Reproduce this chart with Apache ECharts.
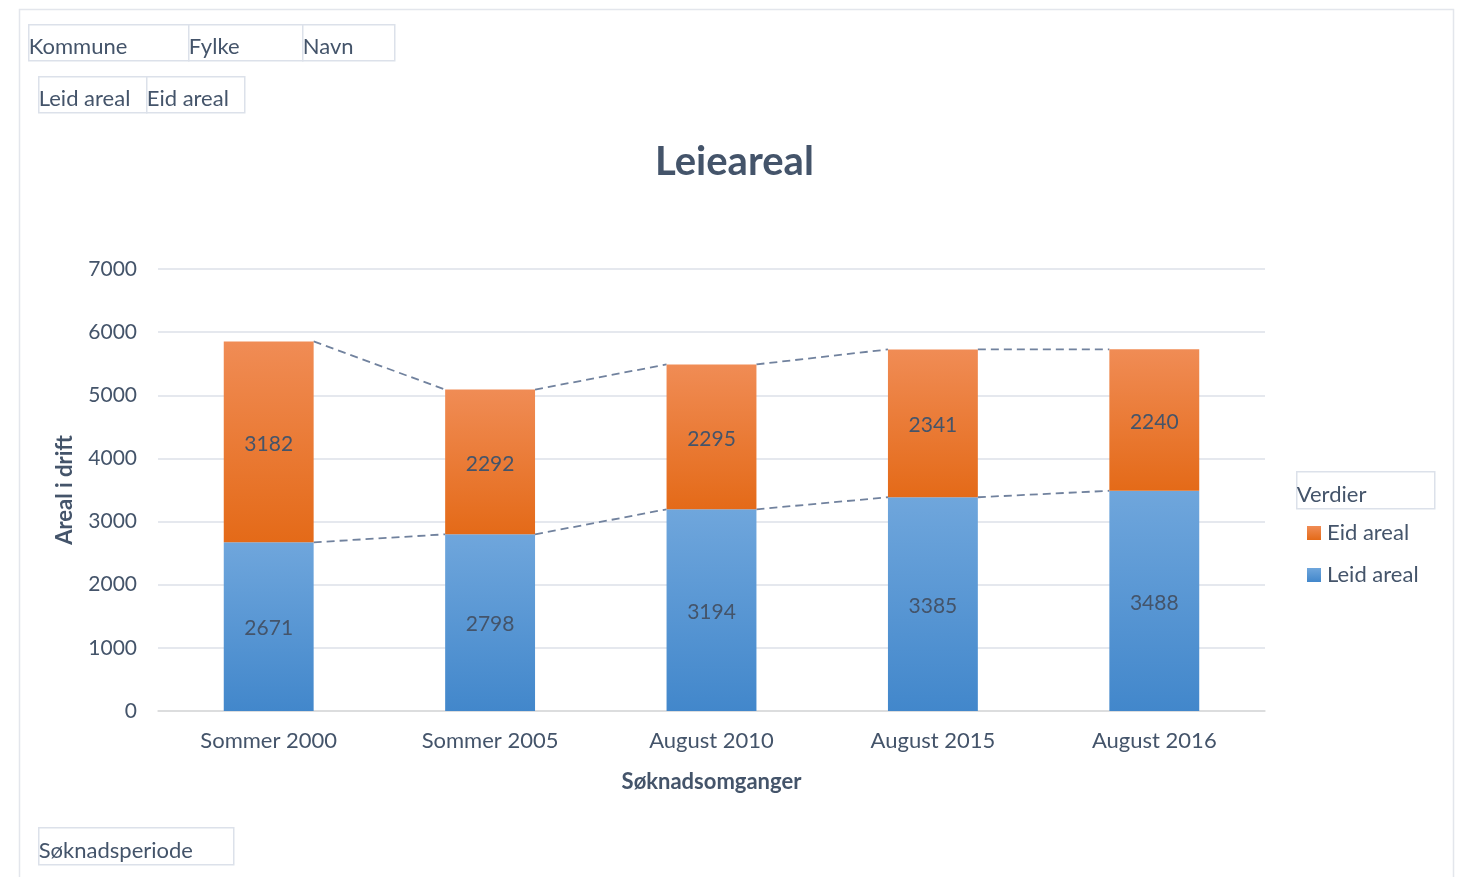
<!DOCTYPE html>
<html>
<head>
<meta charset="utf-8">
<script src="https://cdn.jsdelivr.net/npm/echarts@6/dist/echarts.min.js"></script>
<style>
  html, body { margin: 0; padding: 0; background: #fff; }
  #chart { width: 1457px; height: 877px; }
</style>
</head>
<body>
<div id="chart"></div>
<script>
const categories = ['Sommer 2000', 'Sommer 2005', 'August 2010', 'August 2015', 'August 2016']
const leidAreal = [2671, 2798, 3194, 3385, 3488]
const eidAreal = [3182, 2292, 2295, 2341, 2240]
const yTicks = { min: 0, max: 7000, interval: 1000 }

const textColor = '#44546A'
const fontFamily = 'Lato, "Open Sans", sans-serif'
const barRatio = 0.406

const totals = leidAreal.map((v, i) => v + eidAreal[i])

// Excel-style series lines between the stacked bars
const seriesLine = (values) => ({
  type: 'custom',
  silent: true,
  z: 1,
  data: values.slice(0, -1).map((v, i) => [i, v, values[i + 1]]),
  renderItem: (params, api) => {
    const i = api.value(0)
    const half = api.size([1, 0])[0] * barRatio / 2
    const a = api.coord([i, api.value(1)])
    const b = api.coord([i + 1, api.value(2)])
    return {
      type: 'line',
      shape: { x1: a[0] + half, y1: a[1], x2: b[0] - half, y2: b[1] },
      style: { stroke: '#71829E', lineWidth: 1.8, lineDash: [8, 5] }
    }
  }
})

const filterButton = (x, y, w, h, label) => ({
  type: 'group',
  left: x, top: y,
  children: [
    { type: 'rect', shape: { x: 0, y: 0, width: w, height: h },
      style: { fill: '#fff', stroke: '#DCE1EA', lineWidth: 1.5 } },
    { type: 'text', x: 0, y: h - 25,
      style: { text: label, fill: textColor, font: '22px ' + fontFamily } }
  ]
})

const chart = echarts.init(document.getElementById('chart'))
chart.setOption({
  animation: false,
  textStyle: { fontFamily },
  title: {
    text: 'Leieareal',
    left: 650,
    top: 137,
    textStyle: { fontSize: 40, fontWeight: 'bold', color: textColor, fontFamily }
  },
  legend: {
    orient: 'vertical',
    left: 1302,
    top: 517,
    itemWidth: 14,
    itemHeight: 14,
    itemGap: 20,
    icon: 'rect',
    data: ['Eid areal', 'Leid areal'],
    textStyle: { fontSize: 22, color: textColor, padding: [0, 0, 0, 1] }
  },
  grid: { left: 158, right: 192, top: 269, bottom: 166 },
  xAxis: {
    type: 'category',
    data: categories,
    name: 'Søknadsomganger',
    nameLocation: 'middle',
    nameGap: 60,
    nameTextStyle: { fontSize: 22, fontWeight: 'bold', color: textColor },
    axisLine: { lineStyle: { color: '#D9D9D9', width: 1.5 } },
    axisTick: { show: false },
    axisLabel: { fontSize: 22, color: textColor, margin: 19 }
  },
  yAxis: {
    type: 'value',
    min: yTicks.min,
    max: yTicks.max,
    interval: yTicks.interval,
    name: 'Areal i drift',
    nameLocation: 'middle',
    nameGap: 82,
    nameTextStyle: { fontSize: 22, fontWeight: 'bold', color: textColor },
    axisLine: { show: false },
    axisTick: { show: false },
    axisLabel: { fontSize: 21, color: textColor, margin: 21, formatter: (v) => String(v) },
    splitLine: { lineStyle: { color: '#DDE1E8', width: 1.5 } }
  },
  series: [
    {
      name: 'Leid areal',
      type: 'bar',
      stack: 'areal',
      barWidth: (barRatio * 100) + '%',
      data: leidAreal,
      itemStyle: {
        color: new echarts.graphic.LinearGradient(0, 0, 0, 1, [
          { offset: 0, color: '#6FA6DC' },
          { offset: 1, color: '#4287CB' }
        ])
      },
      label: { show: true, position: 'inside', fontSize: 21, color: textColor, offset: [0, 2] }
    },
    {
      name: 'Eid areal',
      type: 'bar',
      stack: 'areal',
      data: eidAreal,
      itemStyle: {
        color: new echarts.graphic.LinearGradient(0, 0, 0, 1, [
          { offset: 0, color: '#F08C55' },
          { offset: 1, color: '#E46A18' }
        ])
      },
      label: { show: true, position: 'inside', fontSize: 21, color: textColor, offset: [0, 2] }
    },
    seriesLine(leidAreal),
    seriesLine(totals)
  ],
  graphic: [
    { type: 'rect', left: 17, top: 7, shape: { width: 1434, height: 880 },
      style: { fill: 'none', stroke: '#E3E6EC', lineWidth: 1.5 }, silent: true },
    filterButton(28, 24, 160, 36, 'Kommune'),
    filterButton(188, 24, 114, 36, 'Fylke'),
    filterButton(302, 24, 92, 36, 'Navn'),
    filterButton(38, 76, 108, 36, 'Leid areal'),
    filterButton(146, 76, 98, 36, 'Eid areal'),
    filterButton(1296, 471, 138, 37, 'Verdier'),
    filterButton(38, 827, 195, 37, 'Søknadsperiode')
  ]
})
</script>
</body>
</html>
